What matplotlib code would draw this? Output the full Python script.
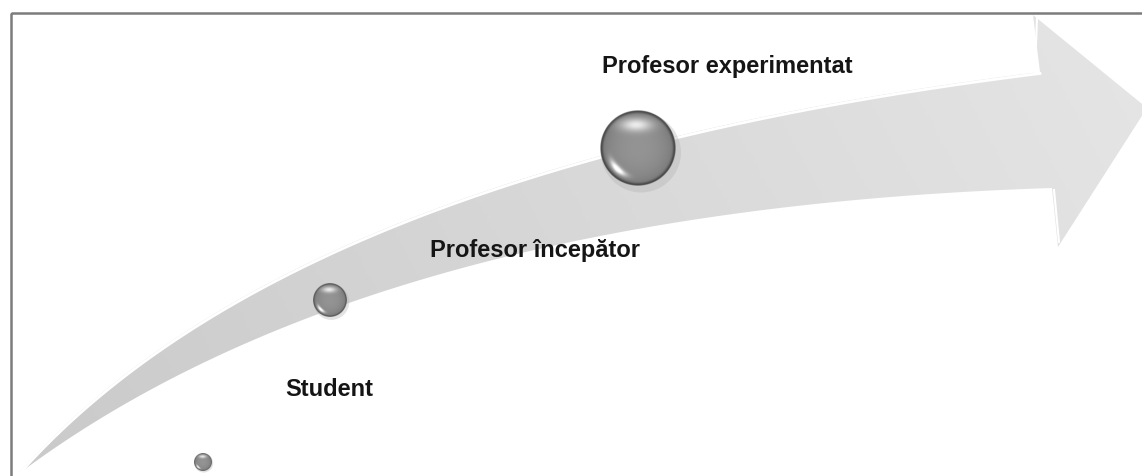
import numpy as np
import matplotlib
matplotlib.use("Agg")
import matplotlib.pyplot as plt
from matplotlib.patches import Polygon, Rectangle

# Stages of the career path (from first to last)
stages = ["Student", "Profesor începător", "Profesor experimentat"]

# Layout in pixel units of the 1142x476 canvas
sphere_x = [203, 330, 638]
sphere_y = [462, 300, 148]
sphere_r = [9, 17, 38]
label_x = [285, 430, 602]
label_y = [396, 257, 73]

W, H = 1142, 476

plt.rcParams["font.family"] = ["Liberation Sans", "DejaVu Sans"]

fig = plt.figure(figsize=(W / 100, H / 100), dpi=100)
ax = fig.add_axes([0, 0, 1, 1])
ax.set_xlim(0, W)
ax.set_ylim(H, 0)
ax.axis("off")


def bezier(p0, c, p2, n=200):
    t = np.linspace(0, 1, n)[:, None]
    return (1 - t) ** 2 * np.array(p0) + 2 * t * (1 - t) * np.array(c) + t ** 2 * np.array(p2)


# arrow body
start = (17, 475)
upper = bezier(start, (289, 165), (1040, 72))
lower = bezier(start, (370, 210), (1052, 188))
head = np.array([(1033, 15), (1147, 108), (1058, 247)])
outline = np.vstack([upper, head, lower[::-1]])

arrow = Polygon(outline, closed=True, facecolor="none", edgecolor="none")
ax.add_patch(arrow)

# soft gradient fill clipped to the arrow
gx = np.linspace(0, 1, 300)
gy = np.linspace(0, 1, 120)
GX, GY = np.meshgrid(gx, gy)
shade = 0.79 + 0.09 * GX + 0.02 * (1 - GY)
grad = ax.imshow(np.dstack([shade, shade, shade]), extent=[0, W, H, 0],
                 origin="upper", aspect="auto", zorder=1)
grad.set_clip_path(arrow)

# bevel highlights
ax.plot(upper[:, 0], upper[:, 1] + 1.5, color="white", lw=2, zorder=2)
ax.plot([1040, 1035, 1037], [73, 73, 18], color="white", lw=1.5, zorder=2)
ax.plot([1054, 1059], [190, 242], color="white", lw=1.5, zorder=2)

# frame
ax.add_patch(Rectangle((11, 13), 1300, 600, fill=False, edgecolor="#7c7c7c", lw=1.8, zorder=5))


def sphere_image(n=160):
    yy, xx = np.mgrid[-1:1:n * 1j, -1:1:n * 1j]
    rr = np.sqrt(xx ** 2 + yy ** 2)
    nz = np.sqrt(np.clip(1 - rr ** 2, 0, 1))
    v = 0.42 + 0.16 * nz
    # top soft highlight
    v += 0.38 * np.exp(-((xx + 0.05) ** 2 / 0.18 + (yy + 0.62) ** 2 / 0.03))
    # bright reflection bottom-left
    ang = np.arctan2(yy, xx)
    crescent = np.exp(-((rr - 0.78) ** 2) / 0.006) * np.exp(-((ang - 2.35) ** 2) / 0.12)
    v += 0.6 * crescent
    # dark rim
    v -= 0.18 * np.exp(-((rr - 0.97) ** 2) / 0.002)
    v = np.clip(v, 0, 1)
    alpha = np.clip((1 - rr) * n / 2, 0, 1)
    return np.dstack([v, v, v, alpha])


img = sphere_image()
for x, y, r in zip(sphere_x, sphere_y, sphere_r):
    # faint shadow under the ball
    ax.add_patch(plt.Circle((x + r * 0.08, y + r * 0.12), r * 1.05, color="#b0b0b0",
                            alpha=0.35, lw=0, zorder=3))
    ax.imshow(img, extent=[x - r, x + r, y + r, y - r], origin="upper",
              interpolation="bilinear", zorder=4)

for name, x, y in zip(stages, label_x, label_y):
    ax.text(x, y, name, fontsize=17, fontweight="bold", color="#151515",
            ha="left", va="baseline", zorder=6)

ax.set_xlim(0, W)
ax.set_ylim(H, 0)
fig.savefig("out.png", dpi=100)
